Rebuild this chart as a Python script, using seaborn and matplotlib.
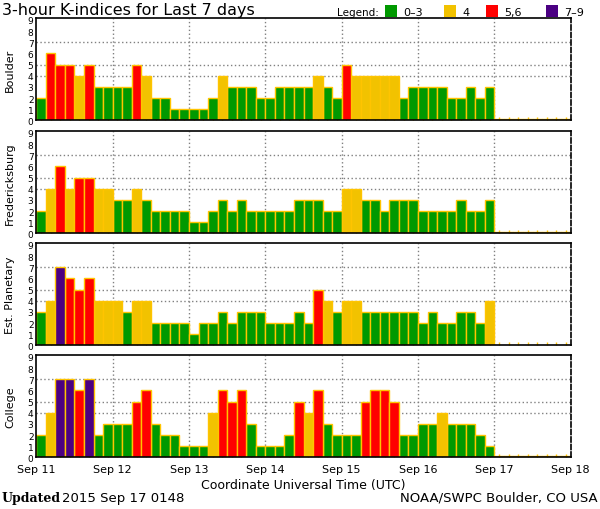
import numpy as np
import pandas as pd
import seaborn as sns
import matplotlib
matplotlib.use("Agg")
import matplotlib.pyplot as plt
from matplotlib.patches import Rectangle

# ---------------- data ----------------
day_labels = ["Sep 11", "Sep 12", "Sep 13", "Sep 14", "Sep 15", "Sep 16", "Sep 17", "Sep 18"]
stations = ["Boulder", "Fredericksburg", "Est. Planetary", "College"]

boulder = [2, 6, 5, 5, 4, 5, 3, 3,
           3, 3, 5, 4, 2, 2, 1, 1,
           1, 1, 2, 4, 3, 3, 3, 2,
           2, 3, 3, 3, 3, 4, 3, 2,
           5, 4, 4, 4, 4, 4, 2, 3,
           3, 3, 3, 2, 2, 3, 2, 3,
           0.12, 0.12, 0.12, 0.12, 0.12, 0.12, 0.12, 0.12]
fredericksburg = [2, 4, 6, 4, 5, 5, 4, 4,
                  3, 3, 4, 3, 2, 2, 2, 2,
                  1, 1, 2, 3, 2, 3, 2, 2,
                  2, 2, 2, 3, 3, 3, 2, 2,
                  4, 4, 3, 3, 2, 3, 3, 3,
                  2, 2, 2, 2, 3, 2, 2, 3,
                  0.12, 0.12, 0.12, 0.12, 0.12, 0.12, 0.12, 0.12]
planetary = [3, 4, 7, 6, 5, 6, 4, 4,
             4, 3, 4, 4, 2, 2, 2, 2,
             1, 2, 2, 3, 2, 3, 3, 3,
             2, 2, 2, 3, 2, 5, 4, 3,
             4, 4, 3, 3, 3, 3, 3, 3,
             2, 3, 2, 2, 3, 3, 2, 4]
college = [2, 4, 7, 7, 6, 7, 2, 3,
           3, 3, 5, 6, 3, 2, 2, 1,
           1, 1, 4, 6, 5, 6, 3, 1,
           1, 1, 2, 5, 4, 6, 3, 2,
           2, 2, 5, 6, 6, 5, 2, 2,
           3, 3, 4, 3, 3, 3, 2, 1,
           0.12, 0.12, 0.12, 0.12, 0.12, 0.12, 0.12, 0.12]
series = [boulder, fredericksburg, planetary, college]

categories = ["0-3", "4", "5,6", "7-9"]
colors = ["#009900", "#F2C200", "#FF0000", "#4B0082"]
palette = dict(zip(categories, colors))


def category(k):
    if k < 3.5:
        return "0-3"
    if k < 4.5:
        return "4"
    if k < 6.5:
        return "5,6"
    return "7-9"


BIN_H = 3  # hours per K-index interval

# ---------------- figure ----------------
W, H = 600, 510
fig = plt.figure(figsize=(W / 100, H / 100), dpi=100)
fig.patch.set_facecolor("white")

left_px, right_px = 36.3, 570.7
tops = [19.3, 132.3, 244.3, 356.3]
panel_h = 102.0

edge = "#FFC400"
grid_col = "#808080"

for i, (name, vals) in enumerate(zip(stations, series)):
    top = tops[i]
    ax = fig.add_axes([left_px / W, 1 - (top + panel_h) / H,
                       (right_px - left_px) / W, panel_h / H])
    hours = [BIN_H * j + BIN_H / 2 for j in range(len(vals))]
    df = pd.DataFrame({"hour": hours, "k": vals,
                       "cat": [category(v) for v in vals]})
    sns.barplot(data=df, x="hour", y="k", hue="cat", hue_order=categories,
                palette=palette, native_scale=True, dodge=False, width=1.0,
                saturation=1, edgecolor=edge, linewidth=1.0,
                errorbar=None, legend=False, ax=ax, zorder=2)

    n_days = len(day_labels) - 1
    ax.set_xlim(0, 24 * n_days)
    ax.set_ylim(0, 9.15)

    # reference grid
    for y in (4, 5, 7):
        ax.axhline(y, color=grid_col, lw=1.0, ls=(0, (1, 1.8)), zorder=1)
    for d in range(1, n_days):
        ax.axvline(24 * d, color=grid_col, lw=1.0, ls=(0, (1, 1.8)), zorder=1)

    ax.set_yticks(range(10))
    ax.set_yticklabels([str(v) for v in range(10)], fontsize=6.5)
    ax.tick_params(axis="y", length=0, pad=2)

    ax.set_xticks([24 * d for d in range(n_days + 1)])
    ax.set_xticks([BIN_H * j + BIN_H / 2 for j in range(8 * n_days)], minor=True)
    ax.tick_params(axis="x", which="major", length=0, pad=5)
    ax.tick_params(axis="x", which="minor", direction="in", length=2.5,
                   width=1, color=edge)
    if i == 3:
        ax.set_xticklabels(day_labels, fontsize=8)
    else:
        ax.set_xticklabels([])
    ax.set_xlabel("")
    ax.set_ylabel(name, fontsize=8)
    ax.yaxis.set_label_coords(-0.040, 0.5)

    for s in ("top", "left", "bottom"):
        ax.spines[s].set_color("black")
        ax.spines[s].set_linewidth(1.2)
    ax.spines["right"].set_color("black")
    ax.spines["right"].set_linewidth(1.2)
    ax.spines["right"].set_linestyle((0, (3, 1.5)))
    ax.set_facecolor("white")
    ax.grid(False)

# ---------------- texts ----------------
fig.text(2 / W, 1 - 14.5 / H, "3-hour K-indices for Last 7 days",
         fontsize=11.5, va="baseline", ha="left")

fig.text(337 / W, 1 - 16 / H, "Legend:", fontsize=7.5, va="baseline", ha="left")
leg_x = [385, 444, 486, 546]
for cx, lab, col in zip(leg_x, categories, colors):
    fig.patches.append(Rectangle((cx / W, 1 - 17.5 / H), 12 / W, 11.5 / H,
                                 transform=fig.transFigure, facecolor=col,
                                 edgecolor="none"))
    fig.text((cx + 18) / W, 1 - 16 / H, lab.replace("-", "\u2013"),
             fontsize=8, va="baseline", ha="left")

fig.text(303 / W, 1 - 486 / H, "Coordinate Universal Time (UTC)",
         fontsize=9, ha="center", va="center")

upd = fig.text(2 / W, 1 - 502 / H, "Updated", fontsize=9, family="DejaVu Serif",
               weight="bold", ha="left", va="baseline")
fig.text(62 / W, 1 - 502 / H, "2015 Sep 17 0148", fontsize=9.5,
         ha="left", va="baseline")
fig.text(598 / W, 1 - 502 / H, "NOAA/SWPC Boulder, CO USA", fontsize=9.5,
         ha="right", va="baseline")

fig.savefig("out.png", dpi=100, facecolor="white")
